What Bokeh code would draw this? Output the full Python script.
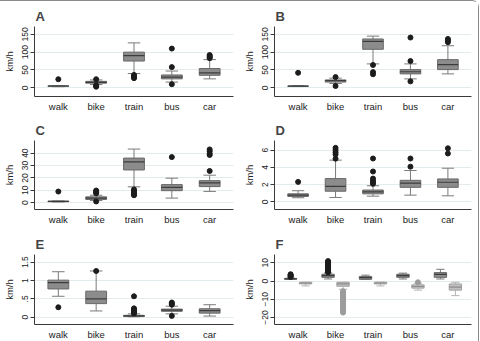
from bokeh.plotting import figure
from bokeh.layouts import gridplot
from bokeh.models import FixedTicker
from bokeh.embed import file_html
from bokeh.resources import INLINE

modes = ["walk", "bike", "train", "bus", "car"]

# A
a_q1 = [4, 13, 75, 25, 35]
a_med = [5, 15, 90, 30, 42]
a_q3 = [5.5, 18, 100, 36, 54]
a_lo = [3, 9, 40, 16, 25]
a_hi = [6, 22, 126, 47, 79]
a_out = [[24], [24, 3, 5, 7], [36, 33, 30, 27], [110, 58, 10], [92, 89, 86, 83]]

# B
b_q1 = [4, 16, 108, 39, 51]
b_med = [4.5, 20, 130, 45, 65]
b_q3 = [5, 22, 137, 51, 79]
b_lo = [3.5, 12, 67, 25, 39]
b_hi = [6, 27, 145, 67, 118]
b_out = [[42], [30, 5], [64, 44, 38], [141, 75, 18], [137, 133, 128]]

# C
c_q1 = [0.8, 2.6, 26.4, 9.7, 13]
c_med = [1, 3.7, 33, 12.3, 16]
c_q3 = [1.2, 4.7, 36, 14.6, 17.8]
c_lo = [0.6, 1.8, 12.8, 3.7, 9.1]
c_hi = [1.4, 6, 43.3, 19.8, 22.2]
c_out = [[9], [9.8, 9, 8.3, 7.6, 1], [10.7, 9.6, 8.6, 7.6, 6.6, 6],
         [36.8], [43, 41.5, 39.5, 38.5, 25.6]]

# D
d_q1 = [0.64, 1.24, 0.94, 1.69, 1.69]
d_med = [0.79, 1.8, 1.16, 2.17, 2.28]
d_q3 = [0.94, 2.7, 1.38, 2.5, 2.66]
d_lo = [0.49, 0.52, 0.67, 0.79, 0.71]
d_hi = [1.3, 4.83, 1.87, 3.63, 3.9]
d_out = [[2.32], [6.25, 6.0, 5.75, 5.5, 5.0], [5.02, 3.52, 2.7, 2.45, 2.25, 2.1],
         [5.02, 4.08], [6.2, 5.6]]

# E
e_q1 = [0.77, 0.37, 0.02, 0.16, 0.11]
e_med = [0.94, 0.5, 0.035, 0.19, 0.18]
e_q3 = [1.01, 0.71, 0.05, 0.22, 0.23]
e_lo = [0.57, 0.17, 0.01, 0.09, 0.03]
e_hi = [1.24, 1.26, 0.09, 0.3, 0.34]
e_out = [[0.27], [1.26], [0.57, 0.24, 0.21, 0.19, 0.16, 0.14, 0.12, 0.1],
         [0.4, 0.37, 0.34, 0.035], []]

# F, positive component
f_pos_q1 = [1.0, 2.0, 0.9, 2.0, 2.0]
f_pos_med = [1.2, 2.9, 1.8, 2.9, 3.6]
f_pos_q3 = [1.4, 3.7, 2.5, 3.7, 4.6]
f_pos_lo = [0.9, 1.1, 0.9, 1.1, 1.1]
f_pos_hi = [1.7, 4.4, 3.2, 4.3, 6.4]
f_pos_out = [[2.2, 2.6, 3.0, 3.3, 3.7],
             [4.8, 5.3, 5.9, 6.4, 7.1, 7.6, 8.2, 8.9, 9.3, 9.9, 10.4, 10.9],
             [], [], []]

# F, negative component
f_neg_q1 = [-1.6, -2.9, -1.6, -3.9, -5.0]
f_neg_med = [-1.1, -1.6, -1.1, -3.0, -3.4]
f_neg_q3 = [-0.7, -0.7, -0.7, -2.1, -1.6]
f_neg_lo = [-2.7, -4.5, -2.7, -5.0, -8.0]
f_neg_hi = [-0.7, -0.7, -0.7, -1.2, -0.7]
f_neg_out = [[], [-5.6, -6.2, -6.9, -7.5, -8.3, -9.0, -9.8, -10.5, -11.4, -12.2,
                  -13.0, -13.9, -14.8, -15.7, -16.6, -17.3], [], [-0.7], []]

FONT = "Liberation Sans"
DARK = dict(fill="#8c8c8c", line="#686868", med="#3c3c3c", whisk="#7a7a7a", dot="#1c1c1c")
LIGHT = dict(fill="#bfbfbf", line="#a4a4a4", med="#8c8c8c", whisk="#b4b4b4", dot="#9c9c9c")


def boxes(p, xs, q1, med, q3, lo, hi, out, col, width, cap):
    p.segment(x0=xs, y0=q3, x1=xs, y1=hi, line_color=col["whisk"], line_width=1)
    p.segment(x0=xs, y0=q1, x1=xs, y1=lo, line_color=col["whisk"], line_width=1)
    cx0 = [x - cap / 2 for x in xs]
    cx1 = [x + cap / 2 for x in xs]
    p.segment(x0=cx0, y0=hi, x1=cx1, y1=hi, line_color=col["whisk"], line_width=1)
    p.segment(x0=cx0, y0=lo, x1=cx1, y1=lo, line_color=col["whisk"], line_width=1)
    p.vbar(x=xs, top=q3, bottom=q1, width=width, fill_color=col["fill"],
           line_color=col["line"], line_width=1)
    bx0 = [x - width / 2 for x in xs]
    bx1 = [x + width / 2 for x in xs]
    p.segment(x0=bx0, y0=med, x1=bx1, y1=med, line_color=col["med"], line_width=1.2)
    ox, oy = [], []
    for x, vals in zip(xs, out):
        for v in vals:
            ox.append(x)
            oy.append(v)
    p.scatter(ox, oy, size=5, fill_color=col["dot"], line_color=col["dot"])


def panel(letter, yr, ticks, h, top, w, right, overrides=None):
    p = figure(width=w, height=h, x_range=(0.37, 5.63), y_range=yr,
               output_backend="svg", toolbar_location=None,
               min_border_left=33, min_border_right=right,
               min_border_top=top, min_border_bottom=16, title=letter)
    p.title.text_font = FONT
    p.title.text_font_size = "13px"
    p.title.text_font_style = "bold"
    p.title.align = "left"
    p.title.offset = 1
    p.title.standoff = 5
    p.outline_line_color = None
    p.background_fill_color = "white"
    p.border_fill_color = "white"

    p.xaxis.ticker = FixedTicker(ticks=[1, 2, 3, 4, 5])
    p.xaxis.major_label_overrides = {i + 1: m for i, m in enumerate(modes)}
    p.xaxis.major_tick_out = 0
    p.xaxis.major_tick_in = 0
    p.xaxis.minor_tick_out = 0
    p.xaxis.minor_tick_in = 0
    p.xaxis.major_label_standoff = 4
    p.xaxis.major_label_text_font = FONT
    p.xaxis.major_label_text_font_size = "9.5px"
    p.xaxis.major_label_text_color = "#222222"
    p.xaxis.axis_line_color = "#3a3a3a"

    p.yaxis.ticker = FixedTicker(ticks=ticks)
    if overrides:
        p.yaxis.major_label_overrides = overrides
    p.yaxis.major_label_orientation = "vertical"
    p.yaxis.major_tick_out = 4
    p.yaxis.major_tick_in = 0
    p.yaxis.minor_tick_out = 0
    p.yaxis.minor_tick_in = 0
    p.yaxis.major_label_standoff = 2
    p.yaxis.major_label_text_font = FONT
    p.yaxis.major_label_text_font_size = "8.5px"
    p.yaxis.major_label_text_color = "#222222"
    p.yaxis.axis_line_color = "#3a3a3a"
    p.yaxis.major_tick_line_color = "#3a3a3a"
    p.yaxis.axis_label = "km/h"
    p.yaxis.axis_label_text_font = FONT
    p.yaxis.axis_label_text_font_size = "9.5px"
    p.yaxis.axis_label_text_font_style = "normal"
    p.yaxis.axis_label_text_color = "#222222"
    p.yaxis.axis_label_standoff = 5

    p.xgrid.visible = False
    p.ygrid.ticker = FixedTicker(ticks=ticks)
    p.ygrid.grid_line_color = "#e4ebee"
    p.ygrid.grid_line_width = 1
    return p


xs = [1, 2, 3, 4, 5]

pA = panel("A", (-24.5, 172), [0, 50, 100, 150], 113, 25, 240, 7)
boxes(pA, xs, a_q1, a_med, a_q3, a_lo, a_hi, a_out, DARK, 0.55, 0.33)

pB = panel("B", (-24.5, 172), [0, 50, 100, 150], 113, 25, 238, 7)
boxes(pB, xs, b_q1, b_med, b_q3, b_lo, b_hi, b_out, DARK, 0.55, 0.33)

pC = panel("C", (-5.5, 50.2), [0, 10, 20, 30, 40], 113, 26, 240, 7)
boxes(pC, xs, c_q1, c_med, c_q3, c_lo, c_hi, c_out, DARK, 0.55, 0.33)

pD = panel("D", (-0.87, 7.1), [0, 2, 4, 6], 113, 26, 238, 7)
boxes(pD, xs, d_q1, d_med, d_q3, d_lo, d_hi, d_out, DARK, 0.55, 0.33)

pE = panel("E", (-0.2, 1.71), [0, 0.5, 1, 1.5], 115, 27, 240, 7,
           overrides={0: "0", 0.5: ".5", 1: "1", 1.5: "1.5"})
boxes(pE, xs, e_q1, e_med, e_q3, e_lo, e_hi, e_out, DARK, 0.55, 0.33)

pF = panel("F", (-23.8, 14.5), [-20, -10, 0, 10], 115, 27, 238, 7)
xs_pos = [x - 0.2 for x in xs]
xs_neg = [x + 0.2 for x in xs]
boxes(pF, xs_neg, f_neg_q1, f_neg_med, f_neg_q3, f_neg_lo, f_neg_hi, f_neg_out,
      LIGHT, 0.33, 0.22)
boxes(pF, xs_pos, f_pos_q1, f_pos_med, f_pos_q3, f_pos_lo, f_pos_hi, f_pos_out,
      DARK, 0.33, 0.22)

grid = gridplot([[pA, pB], [pC, pD], [pE, pF]], toolbar_location=None)
grid.styles = {"border-top": "1px solid #8a8a8a", "border-right": "1px solid #8a8a8a",
               "border-top-right-radius": "7px"}

open("out.html", "w").write(file_html(grid, INLINE))
